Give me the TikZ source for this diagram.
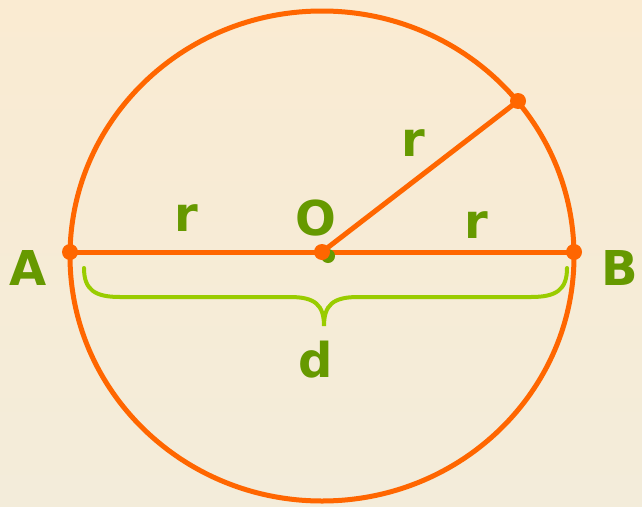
\documentclass[tikz,border=0pt]{standalone}
\usepackage{fontspec}
\setmainfont{DejaVu Sans}
\definecolor{ring}{HTML}{FF6600}
\definecolor{lab}{HTML}{669900}
\definecolor{brace}{HTML}{99CC00}
\definecolor{bgtop}{HTML}{FAEBD2}
\definecolor{bgbot}{HTML}{F3ECDA}
\tikzset{
  letter/.style={text=lab, font=\bfseries\fontsize{48}{48}\selectfont, inner sep=0pt},
  orange line/.style={draw=ring, line width=5pt},
  pt/.style={fill=ring}
}
\begin{document}
\begin{tikzpicture}[x=1pt,y=-1pt]
  % background
  \shade[top color=bgtop, bottom color=bgbot] (0,0) rectangle (642,506);
  \useasboundingbox (0,0) rectangle (642,506);
  % points
  \coordinate (O) at (322,252);
  \coordinate (A) at (70,252);
  \coordinate (B) at (574,252);
  \coordinate (P) at (518,101);
  % circle
  \draw[orange line] (322,256) ellipse [x radius=252, y radius=245];
  % diameter and radius
  \draw[orange line] (A) -- (B);
  \draw[orange line] (O) -- (P);
  % brace under the diameter
  \draw[brace, line width=4pt, line cap=round]
    (84,268) .. controls (84,290) and (95,297) .. (120,297) -- (290,297)
    .. controls (315,297) and (324,305) .. (324,326)
    .. controls (324,305) and (333,297) .. (358,297) -- (531,297)
    .. controls (556,297) and (567,290) .. (567,268);
  % dots
  \fill[lab] (328,256) circle (7);
  \fill[pt] (O) circle (8);
  \fill[pt] (A) circle (8);
  \fill[pt] (B) circle (8);
  \fill[pt] (P) circle (8);
  % labels
  \node[letter] (lA) at (28,268) {A};
  \node[letter] (lB) at (620,268) {B};
  \node[letter] (lO) at (316,218) {O};
  \node[letter] (r1) at (186,218) {r};
  \node[letter] (r2) at (476,225) {r};
  \node[letter] (r3) at (413,143) {r};
  \node[letter] (ld) at (316,360) {d};
\end{tikzpicture}
\end{document}
